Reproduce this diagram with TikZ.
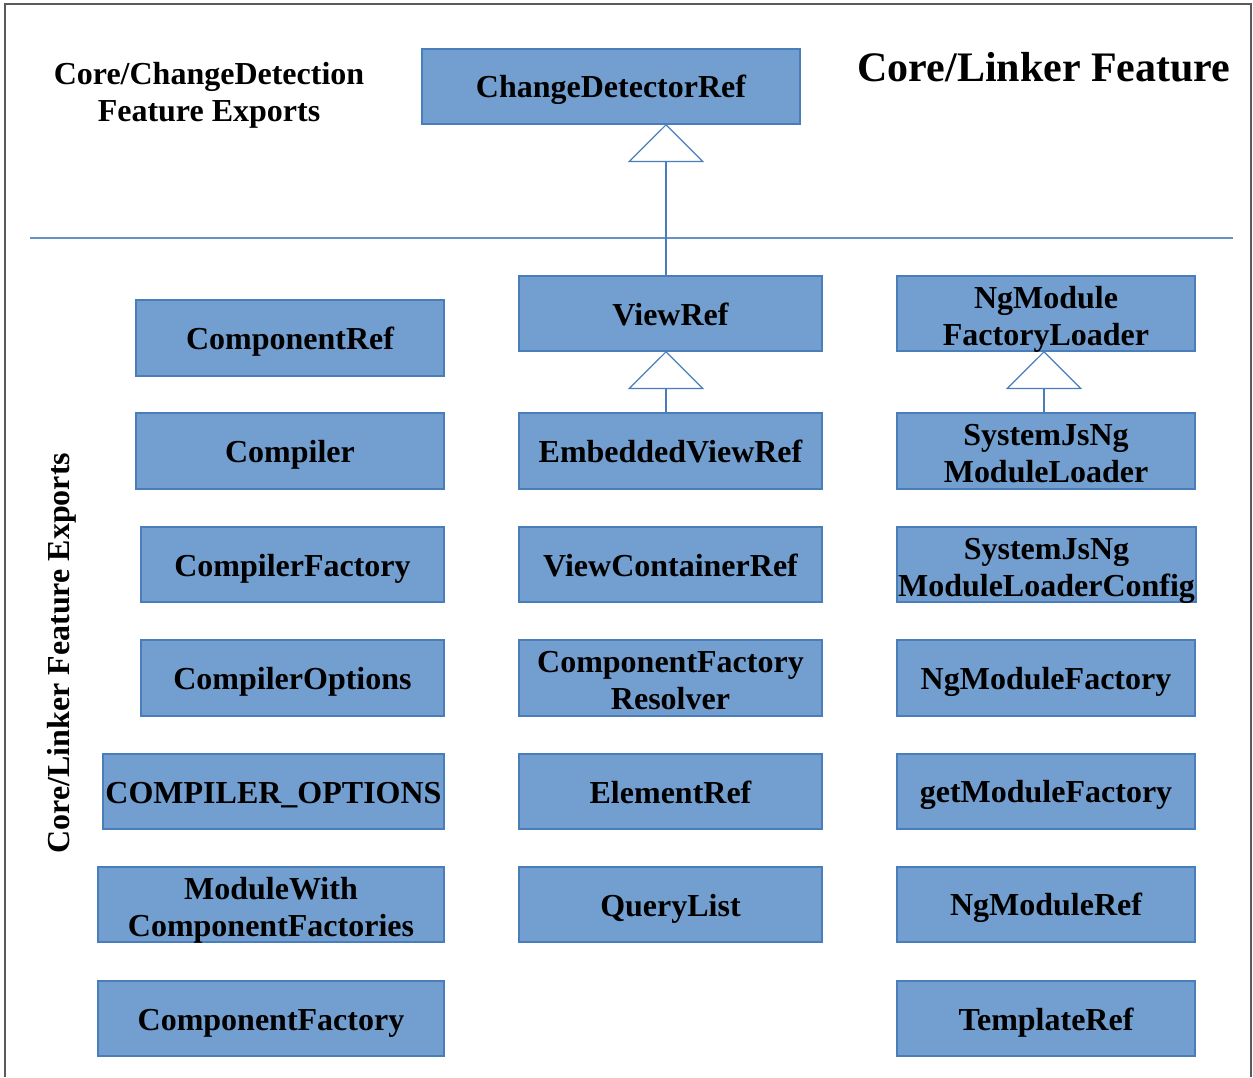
\documentclass[tikz,border=0pt]{standalone}
\usepackage{fontspec}
\setmainfont{Liberation Serif}
\usetikzlibrary{arrows.meta}
\definecolor{boxfill}{HTML}{729FCF}
\definecolor{boxline}{HTML}{4A7EBB}
\definecolor{frame}{HTML}{5A5A5A}
\newcommand{\boxstrut}{\rule[-7pt]{0pt}{37pt}}
\newcommand{\twolines}[2]{\raisebox{-6pt}[\height][\depth]{\begin{tabular}{@{}c@{}}#1\\#2\end{tabular}}}
\tikzset{
  box/.style={draw=boxline, fill=boxfill, line width=1.2pt, inner sep=0pt, outer sep=0pt,
    minimum height=75pt, align=center, font=\bfseries\fontsize{32}{37}\selectfont,
    execute at begin node=\boxstrut, execute at end node=\boxstrut},
  inh/.style={draw=boxline, line width=1.2pt,
    -{Triangle[open, width=76pt, length=38pt, line width=1.2pt, fill=white]}},
  title/.style={align=center, inner sep=0pt, font=\bfseries\fontsize{32}{37}\selectfont}
}
\begin{document}
\begin{tikzpicture}[x=1pt,y=-1pt]
\useasboundingbox (0,0) rectangle (1253,1077);
\fill[white] (0,0) rectangle (1253,1077);
% frame
\draw[frame, line width=1.5pt] (5,1077) -- (5,4) -- (1251,4) -- (1251,1077);
% separator
\draw[boxline!85, line width=1.2pt] (30,238) -- (1233,238);
% titles
\node[title] (cdtitle) at (209,95) {Core/ChangeDetection\\Feature Exports};
\node[inner sep=0pt, font=\bfseries\fontsize{42}{48}\selectfont] (lktitle) at (1044,67) {Core/Linker Feature};
\node[title, rotate=90] (lkexp) at (62,653) {Core/Linker Feature Exports};
% top
\node[box, minimum width=378pt] (cdr) at (611,86.5) {ChangeDetectorRef};
% middle column
\node[box, minimum width=303pt] (viewref) at (670.5,313.5) {ViewRef};
\node[box, minimum width=303pt, minimum height=76pt] (embedded) at (670.5,451) {EmbeddedViewRef};
\node[box, minimum width=303pt] (vcr) at (670.5,564.5) {ViewContainerRef};
\node[box, minimum width=303pt, minimum height=76pt] (cfr) at (670.5,678) {\twolines{ComponentFactory}{Resolver}};
\node[box, minimum width=303pt] (elref) at (670.5,791.5) {ElementRef};
\node[box, minimum width=303pt] (qlist) at (670.5,904.5) {QueryList};
% right column
\node[box, minimum width=298pt] (nmfl) at (1046,313.5) {\twolines{NgModule}{FactoryLoader}};
\node[box, minimum width=298pt, minimum height=76pt] (sjml) at (1046,451) {\twolines{SystemJsNg}{ModuleLoader}};
\node[box, minimum width=299pt] (sjmlc) at (1046.5,564.5) {\twolines{SystemJsNg}{ModuleLoaderConfig}};
\node[box, minimum width=298pt, minimum height=76pt] (nmf) at (1046,678) {NgModuleFactory};
\node[box, minimum width=298pt] (gmf) at (1046,791.5) {getModuleFactory};
\node[box, minimum width=298pt] (nmr) at (1046,904.5) {NgModuleRef};
\node[box, minimum width=298pt] (tref) at (1046,1018.5) {TemplateRef};
% left column
\node[box, anchor=east, minimum width=308pt, minimum height=76pt] (cref) at (444,338) {ComponentRef};
\node[box, anchor=east, minimum width=308pt, minimum height=76pt] (comp) at (444,451) {Compiler};
\node[box, anchor=east, minimum width=303pt] (compf) at (444,564.5) {CompilerFactory};
\node[box, anchor=east, minimum width=303pt, minimum height=76pt] (compo) at (444,678) {CompilerOptions};
\node[box, anchor=east, minimum width=341pt] (compopts) at (444,791.5) {COMPILER\_OPTIONS};
\node[box, anchor=east, minimum width=346pt] (mwcf) at (444,904.5) {\twolines{ModuleWith}{ComponentFactories}};
\node[box, anchor=east, minimum width=346pt] (cf) at (444,1018.5) {ComponentFactory};
% inheritance
\coordinate (axm) at (666,0);
\coordinate (axr) at (1044,0);
\draw[inh] (viewref.north -| axm) -- (cdr.south -| axm);
\draw[inh] (embedded.north -| axm) -- (viewref.south -| axm);
\draw[inh] (sjml.north -| axr) -- (nmfl.south -| axr);
\end{tikzpicture}
\end{document}
